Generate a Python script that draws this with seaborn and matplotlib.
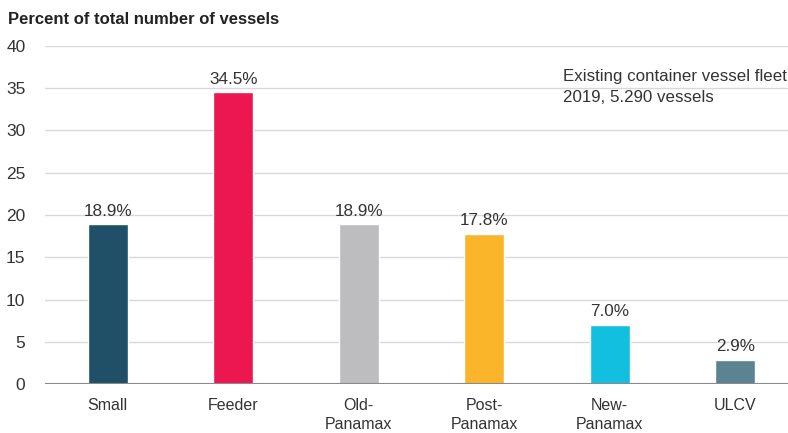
import matplotlib
matplotlib.use("Agg")
import matplotlib.pyplot as plt
import seaborn as sns
import pandas as pd

categories = ["Small", "Feeder", "Old-\nPanamax", "Post-\nPanamax", "New-\nPanamax", "ULCV"]
shares = [18.9, 34.5, 18.9, 17.8, 7.0, 2.9]
colors = ["#1f5068", "#ec1651", "#bdbdbf", "#fbb52b", "#12bfdf", "#5b8391"]
y_ticks = [0, 5, 10, 15, 20, 25, 30, 35, 40]

sns.set_theme(style="white")
plt.rcParams["font.family"] = ["Liberation Sans", "DejaVu Sans"]

df = pd.DataFrame({"category": categories, "share": shares})

fig = plt.figure(figsize=(7.88, 4.33), dpi=100)
ax = fig.add_axes([0.057, 0.113, 0.943, 0.781])

sns.barplot(data=df, x="category", y="share", hue="category", palette=colors,
            width=0.32, legend=False, ax=ax, saturation=1)

ax.set_xlim(-0.5, 5.42)
ax.set_ylim(0, 40)
ax.set_yticks(y_ticks)
for t in y_ticks[1:]:
    ax.axhline(t, color="#d9d9d9", lw=1, zorder=0)
ax.axhline(0, color="#8a8a8a", lw=1.5, zorder=3)

for s in ax.spines.values():
    s.set_visible(False)
ax.tick_params(axis="y", length=0, pad=14, labelsize=12.5, labelcolor="#333333")
ax.tick_params(axis="x", length=0, pad=10, labelsize=11.5, labelcolor="#333333")
for lab in ax.get_yticklabels():
    lab.set_horizontalalignment("right")
for lab in ax.get_xticklabels():
    lab.set_linespacing(1.35)
ax.set_xlabel("")
ax.set_ylabel("")

for i, v in enumerate(shares):
    ax.text(i, v + 0.65, f"{v:.1f}%", ha="center", va="bottom", fontsize=12.3, color="#333333")

fig.text(0.010, 0.955, "Percent of total number of vessels", fontsize=12,
         fontweight="bold", color="#222222", va="center", ha="left")
ax.text(0.697, 0.877, "Existing container vessel fleet\n2019, 5.290 vessels",
        transform=ax.transAxes, fontsize=12.2, color="#333333", va="center",
        ha="left", linespacing=1.5)

fig.savefig("out.png", dpi=100)
